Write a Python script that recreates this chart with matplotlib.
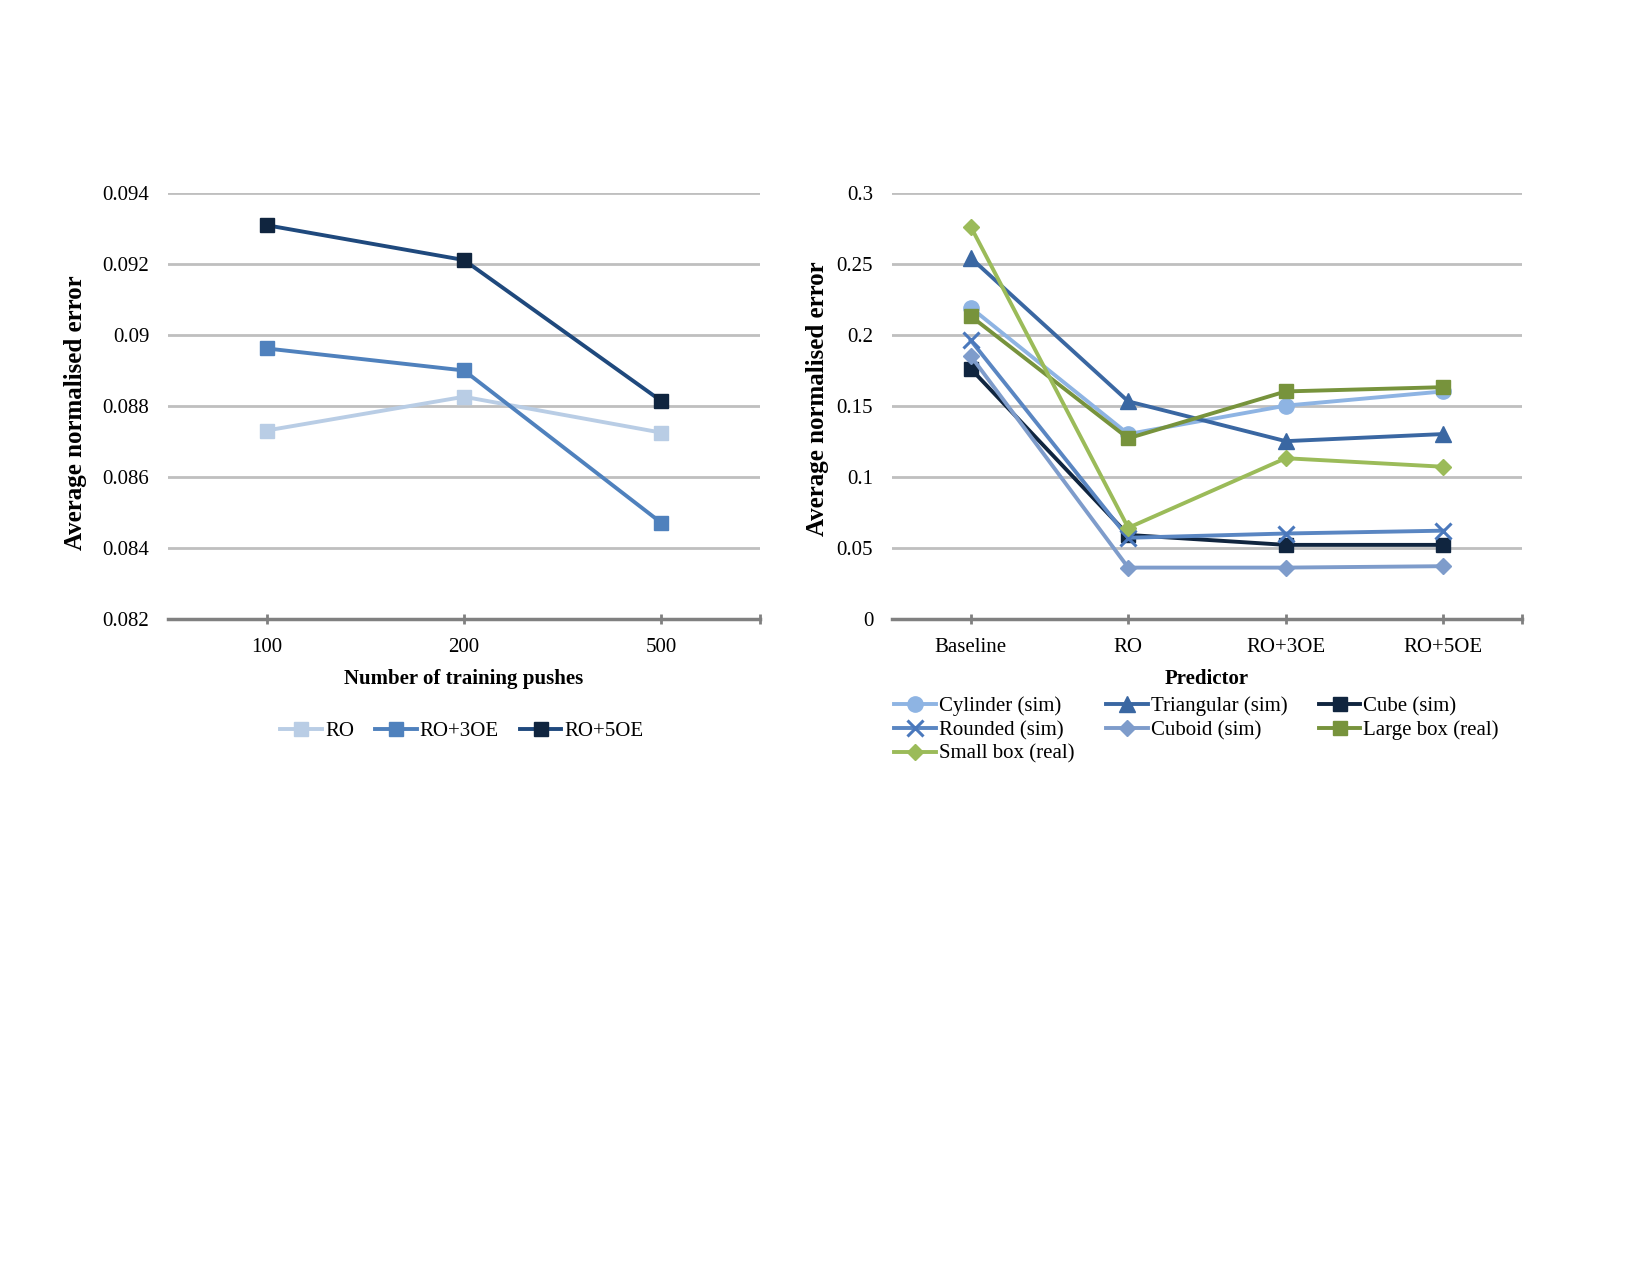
import numpy as np
import matplotlib.pyplot as plt

plt.rcParams['font.family'] = ['Liberation Serif', 'DejaVu Serif']

# left chart: error vs number of training pushes
pushes = ['100', '200', '500']
ro = [0.08730, 0.08825, 0.08724]
ro_3oe = [0.08961, 0.08899, 0.08470]
ro_5oe = [0.09308, 0.09210, 0.08813]

# right chart: error per predictor for each object
predictors = ['Baseline', 'RO', 'RO+3OE', 'RO+5OE']
cylinder = [0.219, 0.130, 0.150, 0.160]
triangular = [0.254, 0.153, 0.125, 0.130]
cube = [0.176, 0.059, 0.052, 0.052]
rounded = [0.196, 0.057, 0.060, 0.062]
cuboid = [0.185, 0.036, 0.036, 0.037]
large_box = [0.213, 0.127, 0.160, 0.163]
small_box = [0.276, 0.064, 0.113, 0.107]

GRID = '#BFBFBF'
AXIS = '#808080'
FS = 15


def style_axes(ax, ncat, ylim, yticks, yfmt):
    ax.set_xlim(-0.5, ncat - 0.5)
    ax.set_ylim(*ylim)
    ax.set_yticks(yticks)
    ax.set_yticklabels([yfmt(v) for v in yticks], fontsize=FS)
    ax.yaxis.grid(True, color=GRID, linewidth=2)
    ax.set_axisbelow(True)
    for s in ['top', 'right', 'left']:
        ax.spines[s].set_visible(False)
    ax.spines['bottom'].set_color(AXIS)
    ax.spines['bottom'].set_linewidth(2.5)
    ax.tick_params(axis='y', length=0, pad=13.5)
    ax.set_xticks(list(range(ncat)) + [ncat - 0.5])
    ax.tick_params(axis='x', direction='inout', length=7, width=2,
                   color=AXIS, pad=10, labelsize=FS)


fig = plt.figure(figsize=(16.5, 12.75), dpi=100)
ax1 = fig.add_axes([0.1018, 0.5147, 0.3588, 0.3343])
ax2 = fig.add_axes([0.5406, 0.5147, 0.3818, 0.3343])

x1 = np.arange(len(pushes))
ax1.plot(x1, ro, color='#B9CDE5', lw=2.8, marker='s', ms=10, label='RO')
ax1.plot(x1, ro_3oe, color='#4F81BD', lw=2.8, marker='s', ms=10, label='RO+3OE')
ax1.plot(x1, ro_5oe, color='#1F497D', lw=2.8, marker='s', ms=10,
         mfc='#10253F', mec='#10253F', label='RO+5OE')
style_axes(ax1, len(pushes), (0.082, 0.094),
           [0.082, 0.084, 0.086, 0.088, 0.09, 0.092, 0.094],
           lambda v: ('%.3f' % v).rstrip('0'))
ax1.set_xticklabels(pushes + [''])
ax1.set_xlabel('Number of training pushes', fontsize=15, fontweight='bold', labelpad=9)
ax1.set_ylabel('Average normalised error', fontsize=18, fontweight='bold')
ax1.yaxis.set_label_coords(-0.1373, 0.484)
ax1.legend(loc='center', bbox_to_anchor=(0.280, 0.4265), bbox_transform=fig.transFigure,
           ncol=3, frameon=False, fontsize=FS, handlelength=2.0, handletextpad=0.15,
           columnspacing=1.0, borderpad=0, borderaxespad=0)

x2 = np.arange(len(predictors))
series = [
    (cylinder, 'Cylinder (sim)', '#8EB4E3', '#8EB4E3', 'o', 11),
    (triangular, 'Triangular (sim)', '#3A67A2', '#3A67A2', '^', 11),
    (cube, 'Cube (sim)', '#10253F', '#10253F', 's', 10),
    (rounded, 'Rounded (sim)', '#5A86C2', '#4A78BC', 'x', 11),
    (cuboid, 'Cuboid (sim)', '#7E9CCB', '#7E9CCB', 'D', 8),
    (large_box, 'Large box (real)', '#77933C', '#77933C', 's', 10),
    (small_box, 'Small box (real)', '#9BBB59', '#9BBB59', 'D', 8),
]
handles = []
for vals, name, lc, mc, mk, ms in series:
    h, = ax2.plot(x2, vals, color=lc, lw=2.8, marker=mk, ms=ms, mfc=mc, mec=mc,
                  mew=2.2 if mk == 'x' else 1, label=name)
    handles.append(h)
style_axes(ax2, len(predictors), (0, 0.3),
           [0, 0.05, 0.1, 0.15, 0.2, 0.25, 0.3],
           lambda v: '0' if v == 0 else ('%.2f' % v).rstrip('0'))
ax2.set_xticklabels(predictors + [''])
ax2.set_xlabel('Predictor', fontsize=15, fontweight='bold', labelpad=9)
ax2.set_ylabel('Average normalised error', fontsize=18, fontweight='bold')
ax2.yaxis.set_label_coords(-0.0995, 0.516)
# legend fills row by row, so reorder for matplotlib's column filling
order = [0, 3, 6, 1, 4, 2, 5]
ax2.legend([handles[i] for i in order], [series[i][1] for i in order],
           loc='upper left', bbox_to_anchor=(0.5421, 0.4536), bbox_transform=fig.transFigure,
           ncol=3, frameon=False, fontsize=FS, handlelength=2.0, handletextpad=0.15,
           columnspacing=1.5, labelspacing=0.2, borderpad=0, borderaxespad=0)

fig.savefig('out.png', dpi=100)
